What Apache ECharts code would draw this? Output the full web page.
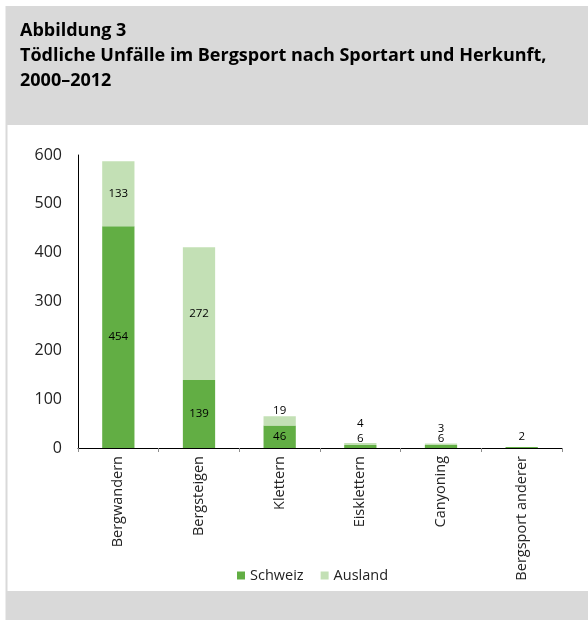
<!DOCTYPE html>
<html>
<head>
<meta charset="utf-8">
<script src="https://cdn.jsdelivr.net/npm/echarts@6/dist/echarts.min.js"></script>
<style>
  html, body { margin: 0; padding: 0; background: #ffffff; }
  #chart { width: 588px; height: 620px; }
</style>
</head>
<body>
<div id="chart"></div>
<script>
// Tödliche Unfälle im Bergsport nach Sportart und Herkunft, 2000–2012
const categories = ['Bergwandern', 'Bergsteigen', 'Klettern', 'Eisklettern', 'Canyoning', 'Bergsport anderer'];
const schweiz = [454, 139, 46, 6, 6, 2];
const ausland = [133, 272, 19, 4, 3, 0];
const yTicks = [0, 100, 200, 300, 400, 500, 600];

const FONT = '"Open Sans", "Noto Sans", sans-serif';
const DARK = '#62ae44';
const LIGHT = '#c3e0b5';

// Small segments get their value written above the bar instead of inside it.
function schweizLabel(v) {
  if (v >= 30) return { position: 'inside' };
  return { position: 'top', distance: v > 4 ? 0 : 4 };
}
function auslandLabel(v, i) {
  if (v === 0) return { show: false };
  if (v >= 30) return { position: 'inside' };
  if (schweiz[i] >= 30) return { position: 'top', distance: 0 };
  return { position: 'top', distance: v > 3 ? 13 : 9 };
}

const chart = echarts.init(document.getElementById('chart'), null, { renderer: 'canvas' });

chart.setOption({
  animation: false,
  backgroundColor: '#ffffff',
  textStyle: { fontFamily: FONT },
  graphic: [
    { type: 'rect', z: -10, silent: true, shape: { x: 5.5, y: 6, width: 583, height: 614 }, style: { fill: '#d9d9d9' } },
    { type: 'rect', z: -9, silent: true, shape: { x: 7.5, y: 125, width: 581, height: 466 }, style: { fill: '#ffffff' } }
  ],
  title: {
    text: 'Abbildung 3\nTödliche Unfälle im Bergsport nach Sportart und Herkunft,\n2000–2012',
    left: 20,
    top: 18.5,
    padding: 0,
    textStyle: { fontFamily: FONT, fontSize: 18, fontWeight: 'bold', color: '#000000', lineHeight: 25 }
  },
  legend: {
    data: ['Schweiz', 'Ausland'],
    left: 232,
    top: 563,
    icon: 'rect',
    itemWidth: 8,
    itemHeight: 8,
    itemGap: 17,
    textStyle: { fontFamily: FONT, fontSize: 14.5, color: '#222222' }
  },
  grid: { left: 78, right: 26, top: 155, bottom: 172, containLabel: false },
  xAxis: {
    type: 'category',
    data: categories,
    axisLine: { lineStyle: { color: '#000000', width: 1 } },
    axisTick: { show: true, length: 4, lineStyle: { color: '#8c8c8c' } },
    axisLabel: { rotate: 90, margin: 8, fontFamily: FONT, fontSize: 14.5, color: '#222222' }
  },
  yAxis: {
    type: 'value',
    min: yTicks[0],
    max: yTicks[yTicks.length - 1],
    interval: yTicks[1] - yTicks[0],
    axisLine: { show: true, lineStyle: { color: '#000000', width: 1 } },
    axisTick: { show: false },
    splitLine: { show: false },
    axisLabel: { margin: 16, fontFamily: FONT, fontSize: 16, color: '#222222' }
  },
  series: [
    {
      name: 'Schweiz',
      type: 'bar',
      stack: 'total',
      barWidth: '40%',
      itemStyle: { color: DARK },
      label: { show: true, fontFamily: FONT, fontSize: 11.5, color: '#000000' },
      data: schweiz.map(v => ({ value: v, label: schweizLabel(v) }))
    },
    {
      name: 'Ausland',
      type: 'bar',
      stack: 'total',
      barWidth: '40%',
      itemStyle: { color: LIGHT },
      label: { show: true, fontFamily: FONT, fontSize: 11.5, color: '#000000' },
      data: ausland.map((v, i) => ({ value: v, label: auslandLabel(v, i) }))
    }
  ]
});
</script>
</body>
</html>
